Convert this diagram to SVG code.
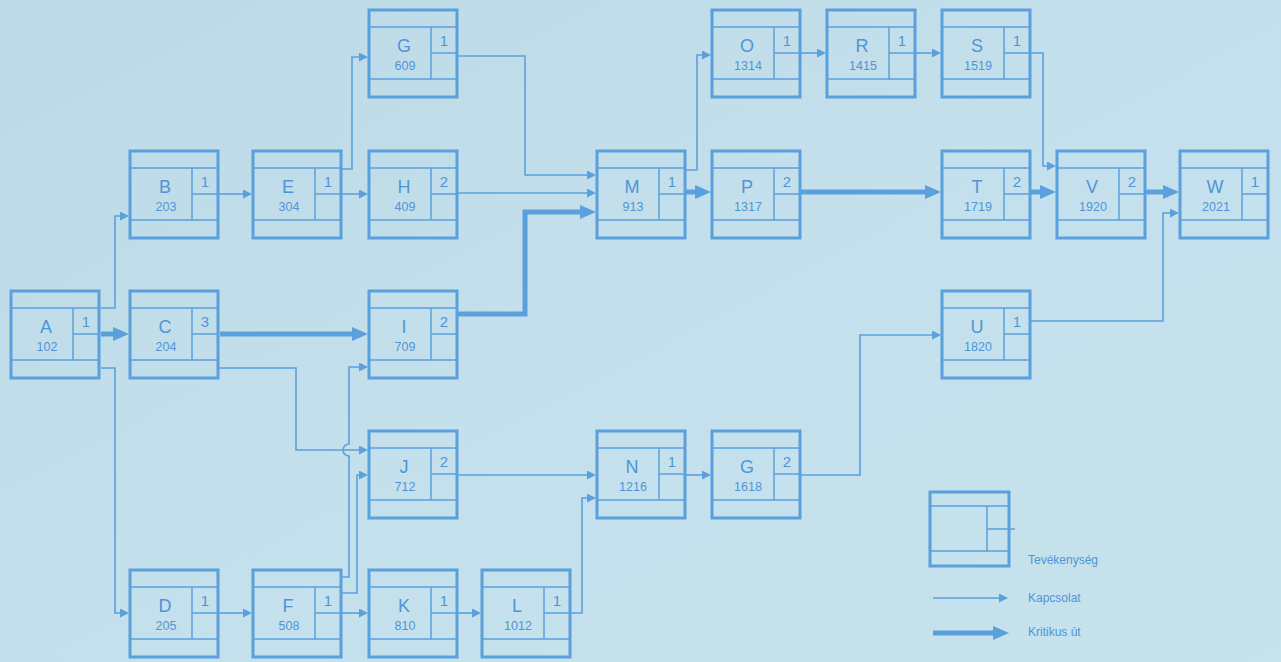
<svg xmlns="http://www.w3.org/2000/svg" xmlns:xlink="http://www.w3.org/1999/xlink" width="1281" height="662" viewBox="0 0 1281 662">
<style>
.frame{fill:none;stroke:#5aa0dc;stroke-width:3}
.inner{fill:none;stroke:#5aa0dc;stroke-width:1.5}
.lt{font-family:"Liberation Sans",Arial,sans-serif;font-size:18px;fill:#4f95d6;text-anchor:middle}
.num{font-family:"Liberation Sans",Arial,sans-serif;font-size:12.5px;fill:#4f95d6;text-anchor:middle}
.dur{font-family:"Liberation Sans",Arial,sans-serif;font-size:15px;fill:#4f95d6;text-anchor:middle}
.leg{font-family:"Liberation Sans",Arial,sans-serif;font-size:12px;fill:#4f95d6}
.thin{fill:none;stroke:#5aa0dc;stroke-width:1.6}
.thick{fill:none;stroke:#5aa0dc;stroke-width:5}
</style>
<defs>
<marker id="ah" viewBox="0 0 10 10" refX="0" refY="5" markerWidth="9" markerHeight="9" markerUnits="userSpaceOnUse" orient="auto"><path d="M0,0 L10,5 L0,10 z" fill="#5aa0dc"/></marker>
<marker id="AH" viewBox="0 0 16 14" refX="0" refY="7" markerWidth="16" markerHeight="14" markerUnits="userSpaceOnUse" orient="auto"><path d="M0,0 L16,7 L0,14 z" fill="#5aa0dc"/></marker>
<linearGradient id="bg" x1="0" y1="0" x2="1" y2="1">
<stop offset="0" stop-color="#bcd9e7"/>
<stop offset="0.5" stop-color="#c4e0ec"/>
<stop offset="1" stop-color="#c6e2ed"/>
</linearGradient>
<g id="box">
<rect class="frame" x="0" y="0" width="88" height="87"/>
<path class="inner" d="M0 17 H88 M0 69 H88 M62 17 V69 M62 43 H88"/>
</g>
</defs>
<rect x="0" y="0" width="1281" height="662" fill="url(#bg)"/>

<g id="connectors">
<path class="thin" marker-end="url(#ah)" d="M101 308 H115 V216 H120"/>
<path class="thin" marker-end="url(#ah)" d="M101 368 H115 V613 H120"/>
<path class="thin" marker-end="url(#ah)" d="M218 194 H243"/>
<path class="thin" marker-end="url(#ah)" d="M341 169 H352 V57 H359"/>
<path class="thin" marker-end="url(#ah)" d="M341 194 H359"/>
<path class="thin" marker-end="url(#ah)" d="M457 56 H525 V175 H587"/>
<path class="thin" marker-end="url(#ah)" d="M457 193 H587"/>
<path class="thin" marker-end="url(#ah)" d="M685 170 H697 V55 H702"/>
<path class="thin" marker-end="url(#ah)" d="M800 53 H817"/>
<path class="thin" marker-end="url(#ah)" d="M915 53 H932"/>
<path class="thin" marker-end="url(#ah)" d="M1030 53 H1043 V166 H1047"/>
<path class="thin" marker-end="url(#ah)" d="M1030 321 H1163 V213 H1170"/>
<path class="thin" marker-end="url(#ah)" d="M218 368 H296 V450 H359"/>
<path class="thin" marker-end="url(#ah)" d="M341 577 H349 V456 A6 6 0 0 1 349 444 V367 H359"/>
<path class="thin" marker-end="url(#ah)" d="M341 593 H357 V475 H359"/>
<path class="thin" marker-end="url(#ah)" d="M341 613 H359"/>
<path class="thin" marker-end="url(#ah)" d="M218 613 H243"/>
<path class="thin" marker-end="url(#ah)" d="M457 613 H472"/>
<path class="thin" marker-end="url(#ah)" d="M569 613 H582 V498 H587"/>
<path class="thin" marker-end="url(#ah)" d="M457 475 H587"/>
<path class="thin" marker-end="url(#ah)" d="M685 475 H702"/>
<path class="thin" marker-end="url(#ah)" d="M800 475 H860 V335 H932"/>
<path class="thick" marker-end="url(#AH)" d="M101 334 H113"/>
<path class="thick" marker-end="url(#AH)" d="M220 334 H352"/>
<path class="thick" marker-end="url(#AH)" d="M457 314 H525 V212 H580"/>
<path class="thick" marker-end="url(#AH)" d="M685 192 H695"/>
<path class="thick" marker-end="url(#AH)" d="M800 192 H925"/>
<path class="thick" marker-end="url(#AH)" d="M1030 192 H1040"/>
<path class="thick" marker-end="url(#AH)" d="M1145 192 H1163"/>
</g>

<g id="node-A" transform="translate(11,291)"><use href="#box"/><text class="lt" x="35" y="42">A</text><text class="num" x="36" y="60">102</text><text class="dur" x="75" y="36">1</text></g>
<g id="node-B" transform="translate(130,151)"><use href="#box"/><text class="lt" x="35" y="42">B</text><text class="num" x="36" y="60">203</text><text class="dur" x="75" y="36">1</text></g>
<g id="node-C" transform="translate(130,291)"><use href="#box"/><text class="lt" x="35" y="42">C</text><text class="num" x="36" y="60">204</text><text class="dur" x="75" y="36">3</text></g>
<g id="node-D" transform="translate(130,570)"><use href="#box"/><text class="lt" x="35" y="42">D</text><text class="num" x="36" y="60">205</text><text class="dur" x="75" y="36">1</text></g>
<g id="node-E" transform="translate(253,151)"><use href="#box"/><text class="lt" x="35" y="42">E</text><text class="num" x="36" y="60">304</text><text class="dur" x="75" y="36">1</text></g>
<g id="node-F" transform="translate(253,570)"><use href="#box"/><text class="lt" x="35" y="42">F</text><text class="num" x="36" y="60">508</text><text class="dur" x="75" y="36">1</text></g>
<g id="node-G" transform="translate(369,10)"><use href="#box"/><text class="lt" x="35" y="42">G</text><text class="num" x="36" y="60">609</text><text class="dur" x="75" y="36">1</text></g>
<g id="node-H" transform="translate(369,151)"><use href="#box"/><text class="lt" x="35" y="42">H</text><text class="num" x="36" y="60">409</text><text class="dur" x="75" y="36">2</text></g>
<g id="node-I" transform="translate(369,291)"><use href="#box"/><text class="lt" x="35" y="42">I</text><text class="num" x="36" y="60">709</text><text class="dur" x="75" y="36">2</text></g>
<g id="node-J" transform="translate(369,431)"><use href="#box"/><text class="lt" x="35" y="42">J</text><text class="num" x="36" y="60">712</text><text class="dur" x="75" y="36">2</text></g>
<g id="node-K" transform="translate(369,570)"><use href="#box"/><text class="lt" x="35" y="42">K</text><text class="num" x="36" y="60">810</text><text class="dur" x="75" y="36">1</text></g>
<g id="node-L" transform="translate(482,570)"><use href="#box"/><text class="lt" x="35" y="42">L</text><text class="num" x="36" y="60">1012</text><text class="dur" x="75" y="36">1</text></g>
<g id="node-M" transform="translate(597,151)"><use href="#box"/><text class="lt" x="35" y="42">M</text><text class="num" x="36" y="60">913</text><text class="dur" x="75" y="36">1</text></g>
<g id="node-N" transform="translate(597,431)"><use href="#box"/><text class="lt" x="35" y="42">N</text><text class="num" x="36" y="60">1216</text><text class="dur" x="75" y="36">1</text></g>
<g id="node-O" transform="translate(712,10)"><use href="#box"/><text class="lt" x="35" y="42">O</text><text class="num" x="36" y="60">1314</text><text class="dur" x="75" y="36">1</text></g>
<g id="node-P" transform="translate(712,151)"><use href="#box"/><text class="lt" x="35" y="42">P</text><text class="num" x="36" y="60">1317</text><text class="dur" x="75" y="36">2</text></g>
<g id="node-G2" transform="translate(712,431)"><use href="#box"/><text class="lt" x="35" y="42">G</text><text class="num" x="36" y="60">1618</text><text class="dur" x="75" y="36">2</text></g>
<g id="node-R" transform="translate(827,10)"><use href="#box"/><text class="lt" x="35" y="42">R</text><text class="num" x="36" y="60">1415</text><text class="dur" x="75" y="36">1</text></g>
<g id="node-S" transform="translate(942,10)"><use href="#box"/><text class="lt" x="35" y="42">S</text><text class="num" x="36" y="60">1519</text><text class="dur" x="75" y="36">1</text></g>
<g id="node-T" transform="translate(942,151)"><use href="#box"/><text class="lt" x="35" y="42">T</text><text class="num" x="36" y="60">1719</text><text class="dur" x="75" y="36">2</text></g>
<g id="node-U" transform="translate(942,291)"><use href="#box"/><text class="lt" x="35" y="42">U</text><text class="num" x="36" y="60">1820</text><text class="dur" x="75" y="36">1</text></g>
<g id="node-V" transform="translate(1057,151)"><use href="#box"/><text class="lt" x="35" y="42">V</text><text class="num" x="36" y="60">1920</text><text class="dur" x="75" y="36">2</text></g>
<g id="node-W" transform="translate(1180,151)"><use href="#box"/><text class="lt" x="35" y="42">W</text><text class="num" x="36" y="60">2021</text><text class="dur" x="75" y="36">1</text></g>

<g id="legend">
<rect class="frame" x="930" y="492" width="79" height="74"/>
<path class="inner" d="M930 506 H1009 M930 551 H1009 M987 506 V551 M987 529 H1015"/>
<text class="leg" x="1028" y="564">Tevékenység</text>
<path class="thin" marker-end="url(#ah)" d="M933 598 H999"/>
<text class="leg" x="1028" y="602">Kapcsolat</text>
<path class="thick" marker-end="url(#AH)" d="M933 633 H993"/>
<text class="leg" x="1028" y="636">Kritikus út</text>
</g>
</svg>
